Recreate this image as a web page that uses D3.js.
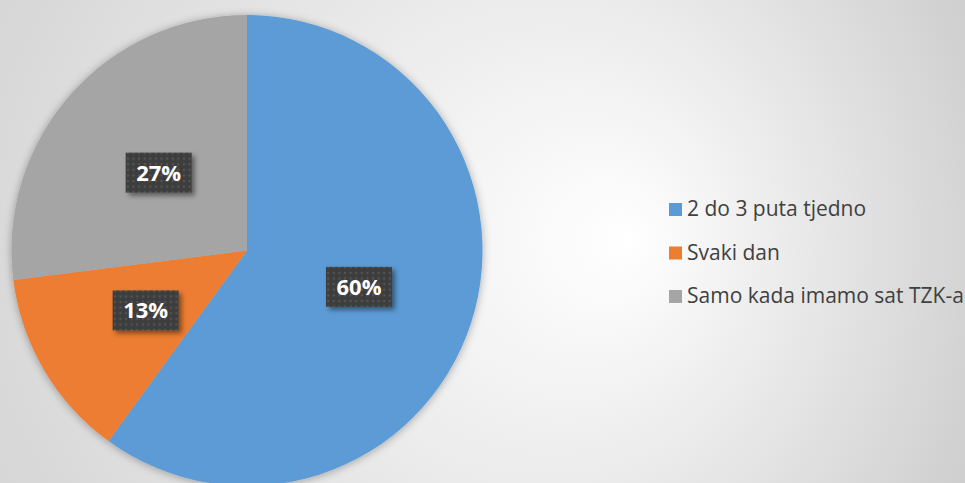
<!DOCTYPE html>
<html>
<head>
<meta charset="utf-8">
<script src="https://cdn.jsdelivr.net/npm/d3@7"></script>
<style>
  html, body { margin: 0; padding: 0; background: #fff; }
  svg { display: block; }
</style>
</head>
<body>
<div id="chart"></div>
<script>
// Answers to "how often" and their shares (percent)
const categories = ["2 do 3 puta tjedno", "Svaki dan", "Samo kada imamo sat TZK-a"];
const shares = [60, 13, 27];
const colors = ["#5b9bd5", "#ed7d31", "#a5a5a5"];

const width = 965, height = 483;
const cx = 247, cy = 250.5, radius = 235.5;

const svg = d3.select("#chart").append("svg")
  .attr("width", width).attr("height", height);

const defs = svg.append("defs");

// Soft grey backdrop, brightest right of the pie
const bg = defs.append("radialGradient")
  .attr("id", "bg").attr("gradientUnits", "userSpaceOnUse")
  .attr("cx", 330).attr("cy", 240).attr("r", 820)
  .attr("fx", 630).attr("fy", 240);
bg.append("stop").attr("offset", "0").attr("stop-color", "#ffffff");
bg.append("stop").attr("offset", "1").attr("stop-color", "#bdbdbd");

svg.append("rect").attr("width", width).attr("height", height).attr("fill", "url(#bg)");

// Halo around the pie
const halo = defs.append("filter").attr("id", "halo")
  .attr("x", "-10%").attr("y", "-10%").attr("width", "120%").attr("height", "120%");
halo.append("feDropShadow").attr("dx", 0).attr("dy", 1).attr("stdDeviation", 4.5)
  .attr("flood-color", "#000").attr("flood-opacity", 0.32);

// Shadow under the value boxes
const boxShadow = defs.append("filter").attr("id", "boxShadow")
  .attr("x", "-20%").attr("y", "-20%").attr("width", "150%").attr("height", "160%");
boxShadow.append("feDropShadow").attr("dx", 3).attr("dy", 3).attr("stdDeviation", 2.5)
  .attr("flood-color", "#000").attr("flood-opacity", 0.45);

// Dotted dark fill for the value boxes
const dots = defs.append("pattern").attr("id", "dots")
  .attr("patternUnits", "userSpaceOnUse").attr("width", 5.6).attr("height", 5.6);
dots.append("rect").attr("width", 5.6).attr("height", 5.6).attr("fill", "#3e3e3e");
dots.append("circle").attr("cx", 2.8).attr("cy", 2.8).attr("r", 1.1).attr("fill", "#555555");

const pie = d3.pie().sort(null).value(d => d);
const arcs = pie(shares);

const arc = d3.arc().innerRadius(0).outerRadius(radius);
const labelArc = d3.arc().innerRadius(radius * 0.5).outerRadius(radius * 0.5);

const g = svg.append("g").attr("transform", `translate(${cx},${cy})`);

g.append("g").attr("filter", "url(#halo)")
  .selectAll("path").data(arcs).join("path")
  .attr("d", arc)
  .attr("fill", (d, i) => colors[i]);

// Value labels on dark boxes
const boxW = 66, boxH = 40;
const labels = g.selectAll("g.lbl").data(arcs).join("g")
  .attr("class", "lbl")
  .attr("transform", d => {
    const [x, y] = labelArc.centroid(d);
    return `translate(${x},${y})`;
  });

labels.append("rect")
  .attr("x", -boxW / 2).attr("y", -boxH / 2)
  .attr("width", boxW).attr("height", boxH)
  .attr("fill", "url(#dots)")
  .attr("filter", "url(#boxShadow)");

labels.append("text")
  .attr("text-anchor", "middle")
  .attr("dy", "0.36em")
  .attr("font-family", "'Open Sans', sans-serif")
  .attr("font-weight", 700)
  .attr("font-size", 22)
  .attr("fill", "#ffffff")
  .text(d => d.data + "%");

// Legend
const legend = svg.append("g").attr("transform", "translate(669,203)");
const rowGap = 43.5;
const rows = legend.selectAll("g").data(categories).join("g")
  .attr("transform", (d, i) => `translate(0,${i * rowGap})`);

rows.append("rect")
  .attr("width", 13).attr("height", 13)
  .attr("fill", (d, i) => colors[i]);

rows.append("text")
  .attr("x", 18).attr("y", 13)
  .attr("font-family", "'Open Sans', sans-serif")
  .attr("font-size", 21)
  .attr("fill", "#404040")
  .text(d => d);
</script>
</body>
</html>
